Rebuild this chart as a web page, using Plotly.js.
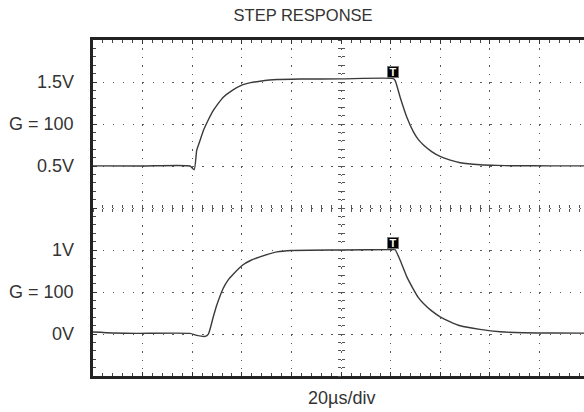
<!DOCTYPE html>
<html>
<head>
<meta charset="utf-8">
<script src="https://cdn.plot.ly/plotly-3.0.1.min.js"></script>
<style>html,body{margin:0;padding:0;background:#fff;}#chart{width:584px;height:412px;}</style>
</head>
<body>
<div id="chart"></div>
<script>
// Upper trace (G = 100), time in µs, output in V
const topTime  = [0, 20, 39.1, 40.8, 41.8, 43.1, 44.5, 46.5, 48.5, 50.5, 52.5, 56.0, 60.2, 63.5, 67.3, 74.1, 83.5, 100, 121,
                  121.8, 123.8, 126.5, 129.1, 131.0, 133.2, 136.5, 139.9, 144, 148.0, 156.0, 163, 169.4, 185, 198];
const topVolts = [0.501, 0.500, 0.500, 0.456, 0.685, 0.80, 0.923, 1.05, 1.161, 1.245, 1.319, 1.398, 1.466, 1.492, 1.509, 1.529, 1.535, 1.537, 1.541,
                  1.517, 1.319, 1.081, 0.910, 0.820, 0.750, 0.672, 0.614, 0.570, 0.539, 0.515, 0.507, 0.503, 0.502, 0.501];
// Lower trace (G = 100)
const bottomTime  = [0, 8, 17.6, 39.1, 41.8, 45.2, 46.5, 48.5, 49.9, 52.5, 54.5, 56.6, 60.2, 63.5, 67.3, 74.1, 80.1, 100, 121,
                     121.8, 123.8, 126.5, 129.1, 131.0, 133.2, 136.5, 139.9, 144, 148.0, 156.0, 164.1, 173.5, 185, 198];
const bottomVolts = [0.023, 0.012, 0.007, 0.007, -0.016, -0.028, -0.001, 0.205, 0.344, 0.545, 0.645, 0.715, 0.819, 0.875, 0.918, 0.977, 0.994, 1.000, 1.005,
                     1.003, 0.878, 0.680, 0.535, 0.440, 0.364, 0.275, 0.205, 0.145, 0.098, 0.055, 0.026, 0.014, 0.012, 0.011];
// Trigger marker time (µs) and levels
const triggerTime = 121;
const triggerTop = 1.624;
const triggerBottom = 1.078;
// Axis labels
const topLabels = [{v: 1.5, t: '1.5V'}, {v: 1.0, t: 'G = 100'}, {v: 0.5, t: '0.5V'}];
const bottomLabels = [{v: 1.0, t: '1V'}, {v: 0.5, t: 'G = 100'}, {v: 0.0, t: '0V'}];
const chartTitle = 'STEP RESPONSE';
const xLabel = '20µs/div';

const FONT = '"Liberation Sans", Arial, Helvetica, sans-serif';
const TXT = '#333';
const xRange = [0, 197.9];
const gridCol = '#5a5a5a';

const lineStyle = {color: '#3a3a3a', width: 1.4, shape: 'spline', smoothing: 0.5};
const traces = [
  {x: topTime, y: topVolts, type: 'scatter', mode: 'lines', xaxis: 'x', yaxis: 'y',
   line: lineStyle, hoverinfo: 'skip', showlegend: false},
  {x: bottomTime, y: bottomVolts, type: 'scatter', mode: 'lines', xaxis: 'x', yaxis: 'y2',
   line: lineStyle, hoverinfo: 'skip', showlegend: false}
];

const annotations = [];
topLabels.forEach(l => annotations.push({xref: 'paper', yref: 'y', x: -0.035, y: l.v, text: l.t,
  showarrow: false, xanchor: 'right', yanchor: 'middle', font: {family: FONT, size: 18, color: TXT}}));
bottomLabels.forEach(l => annotations.push({xref: 'paper', yref: 'y2', x: -0.035, y: l.v, text: l.t,
  showarrow: false, xanchor: 'right', yanchor: 'middle', font: {family: FONT, size: 18, color: TXT}}));
annotations.push({xref: 'x', yref: 'paper', x: 100, y: -0.066, text: xLabel, showarrow: false,
  xanchor: 'center', yanchor: 'middle', font: {family: FONT, size: 18, color: TXT}});
[[triggerTop, 'y'], [triggerBottom, 'y2']].forEach(([v, ax]) => annotations.push({
  xref: 'x', yref: ax, x: triggerTime, y: v, text: '<b>T</b>', showarrow: false,
  xanchor: 'center', yanchor: 'middle', bgcolor: '#000', bordercolor: '#777', borderwidth: 1,
  width: 10, height: 10, borderpad: 0, font: {family: FONT, size: 11, color: '#fff'}}));

const crossTick = (extra) => Object.assign({
  range: xRange, showgrid: false, zeroline: false, showline: false, showticklabels: false,
  tickmode: 'linear', tick0: 0, dtick: 4, ticklen: 3, tickwidth: 1, tickcolor: '#555', fixedrange: true
}, extra);
const crossTickY = (extra) => Object.assign({
  range: [-2, 2], showgrid: false, zeroline: false, showline: false, showticklabels: false,
  tickmode: 'linear', tick0: 0, dtick: 0.1, ticklen: 3, tickwidth: 1, tickcolor: '#555', fixedrange: true
}, extra);

const layout = {
  width: 584, height: 412,
  margin: {l: 93, r: 0, t: 40, b: 36},
  paper_bgcolor: '#fff', plot_bgcolor: '#fff',
  font: {family: FONT, color: TXT},
  title: {text: chartTitle, x: 0.519, xanchor: 'center', xref: 'container', y: 0.962, yanchor: 'middle',
          font: {family: FONT, size: 16.5, color: TXT}},
  showlegend: false,
  xaxis: {
    range: xRange, tickmode: 'linear', tick0: 0, dtick: 20,
    showgrid: true, gridcolor: gridCol, gridwidth: 1, griddash: '1.5px,6.91px',
    zeroline: false, showticklabels: false,
    ticks: 'inside', ticklen: 4, tickwidth: 1, tickcolor: '#333',
    minor: {tickmode: 'linear', tick0: 0, dtick: 4, ticks: 'inside', ticklen: 3, tickcolor: '#444', showgrid: false},
    showline: true, linecolor: '#222', linewidth: 3, mirror: 'ticks', fixedrange: true
  },
  yaxis: {
    range: [-2, 2], tickmode: 'linear', tick0: 0, dtick: 0.5,
    showgrid: true, gridcolor: gridCol, gridwidth: 1, griddash: '1.5px,8.43px',
    zeroline: false, showticklabels: false,
    ticks: 'inside', ticklen: 4, tickwidth: 1, tickcolor: '#333',
    minor: {tickmode: 'linear', tick0: 0, dtick: 0.1, ticks: 'inside', ticklen: 3, tickcolor: '#444', showgrid: false},
    showline: true, linecolor: '#222', linewidth: 3, mirror: false, fixedrange: true
  },
  yaxis2: {range: [-0.5, 3.5], overlaying: 'y', showgrid: false, zeroline: false, showticklabels: false,
           showline: false, ticks: '', fixedrange: true},
  xaxis2: crossTick({overlaying: 'x', anchor: 'free', position: 0.5, ticks: 'inside'}),
  xaxis3: crossTick({overlaying: 'x', anchor: 'free', position: 0.5, ticks: 'outside'}),
  yaxis3: crossTickY({overlaying: 'y', anchor: 'free', position: 100 / xRange[1], ticks: 'inside'}),
  yaxis4: crossTickY({overlaying: 'y', anchor: 'free', position: 100 / xRange[1], ticks: 'outside'}),
  annotations: annotations
};

// invisible traces so the overlay tick axes render
traces.push({x: [0], y: [0], xaxis: 'x2', yaxis: 'y', type: 'scatter', mode: 'markers', marker: {opacity: 0}, hoverinfo: 'skip'});
traces.push({x: [0], y: [0], xaxis: 'x3', yaxis: 'y', type: 'scatter', mode: 'markers', marker: {opacity: 0}, hoverinfo: 'skip'});
traces.push({x: [0], y: [0], xaxis: 'x', yaxis: 'y3', type: 'scatter', mode: 'markers', marker: {opacity: 0}, hoverinfo: 'skip'});
traces.push({x: [0], y: [0], xaxis: 'x', yaxis: 'y4', type: 'scatter', mode: 'markers', marker: {opacity: 0}, hoverinfo: 'skip'});

Plotly.newPlot('chart', traces, layout, {displayModeBar: false, staticPlot: true});
</script>
</body>
</html>
